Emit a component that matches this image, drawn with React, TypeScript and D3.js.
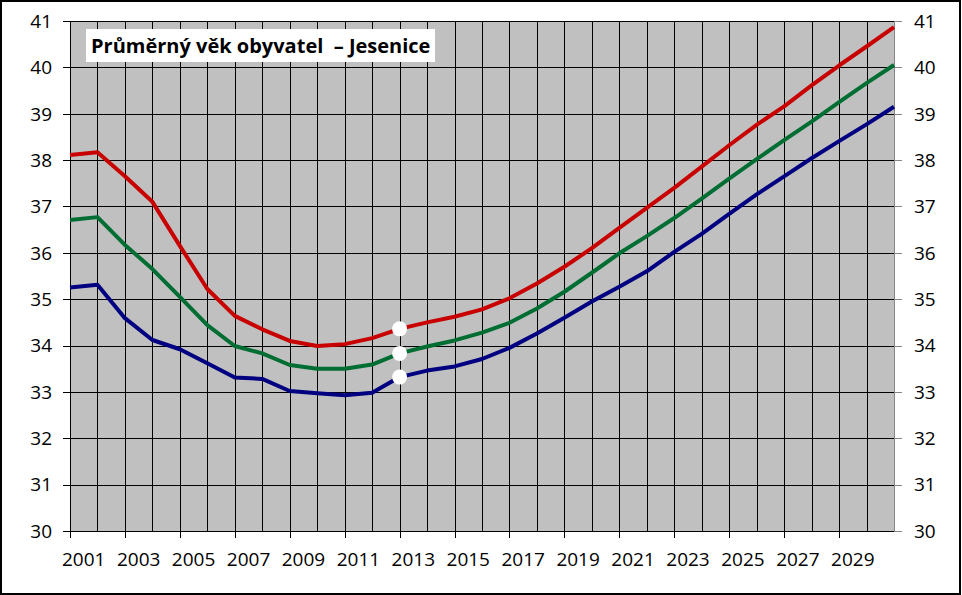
import React from "react";
import * as d3 from "d3";

const years = [2001,2002,2003,2004,2005,2006,2007,2008,2009,2010,2011,2012,2013,2014,2015,2016,2017,2018,2019,2020,2021,2022,2023,2024,2025,2026,2027,2028,2029,2030,2031];
const redSeries = [38.11,38.17,37.65,37.10,36.15,35.22,34.64,34.35,34.10,33.99,34.03,34.16,34.36,34.50,34.62,34.78,35.02,35.34,35.70,36.10,36.54,36.97,37.40,37.86,38.32,38.76,39.16,39.61,40.04,40.45,40.87];
const greenSeries = [36.71,36.77,36.17,35.65,35.05,34.44,33.99,33.83,33.58,33.50,33.50,33.59,33.83,33.98,34.11,34.28,34.49,34.80,35.16,35.57,35.99,36.36,36.75,37.17,37.60,38.02,38.43,38.83,39.25,39.66,40.05];
const blueSeries = [35.25,35.31,34.59,34.12,33.92,33.62,33.31,33.28,33.02,32.97,32.93,32.98,33.32,33.46,33.55,33.71,33.95,34.26,34.60,34.95,35.27,35.60,36.02,36.41,36.84,37.26,37.65,38.04,38.41,38.77,39.15];
const yTicks = [30,31,32,33,34,35,36,37,38,39,40,41];
const xLabelYears = [2001,2003,2005,2007,2009,2011,2013,2015,2017,2019,2021,2023,2025,2027,2029];
const markerYear = 2013;
const title = "Průměrný věk obyvatel  – Jesenice";

const W = 962, H = 595;
const L = 70, R = 894, T = 21, B = 531;
const FONT = "'Open Sans', 'Noto Sans', sans-serif";

export default function App() {
  const x = d3.scaleLinear().domain([2001, 2031]).range([L, R]);
  const y = d3.scaleLinear().domain([30, 41]).range([B, T]);
  const step = x(2002) - x(2001);
  const line = d3.line<[number, number]>().x(d => x(d[0])).y(d => y(d[1]));
  const series = [
    { values: blueSeries, color: "#000080" },
    { values: greenSeries, color: "#006E33" },
    { values: redSeries, color: "#C80000" },
  ];
  const mi = years.indexOf(markerYear);
  return (
    <div style={{ position: "absolute", left: 0, top: 0 }}>
      <svg width={W} height={H} style={{ display: "block" }}>
        <rect x={0} y={0} width={W} height={H} fill="#fff" />
        <rect x={L} y={T} width={R - L} height={B - T} fill="#C0C0C0" />
        {yTicks.map(v => (
          <line key={"h" + v} x1={L} x2={R} y1={Math.round(y(v)) + 0.5} y2={Math.round(y(v)) + 0.5} stroke="#000" strokeWidth={1} />
        ))}
        {years.slice(0, -1).map(yr => (
          <line key={"v" + yr} x1={Math.round(x(yr)) + 0.5} x2={Math.round(x(yr)) + 0.5} y1={T} y2={B + 0.5} stroke="#000" strokeWidth={1} />
        ))}
        <line x1={R + 0.5} x2={R + 0.5} y1={T} y2={B + 0.5} stroke="#868686" />
        {yTicks.map(v => (
          <line key={"rt" + v} x1={R} x2={R + 8} y1={Math.round(y(v)) + 0.5} y2={Math.round(y(v)) + 0.5} stroke="#868686" />
        ))}
        {yTicks.map(v => (
          <line key={"lt" + v} x1={L - 7} x2={L} y1={Math.round(y(v)) + 0.5} y2={Math.round(y(v)) + 0.5} stroke="#000" />
        ))}
        {xLabelYears.map(yr => (
          <line key={"bt" + yr} x1={Math.round(x(yr)) + 0.5} x2={Math.round(x(yr)) + 0.5} y1={B} y2={B + 7} stroke="#000" />
        ))}
        {yTicks.map(v => (
          <text key={"ll" + v} x={52} y={y(v)} dy="0.36em" textAnchor="end" fontFamily={FONT} fontSize={19} fill="#000">{v}</text>
        ))}
        {yTicks.map(v => (
          <text key={"rl" + v} x={914} y={y(v)} dy="0.36em" textAnchor="start" fontFamily={FONT} fontSize={19} fill="#000">{v}</text>
        ))}
        {xLabelYears.map(yr => (
          <text key={"xl" + yr} x={x(yr) + step / 2} y={566} textAnchor="middle" fontFamily={FONT} fontSize={19} fill="#000">{yr}</text>
        ))}
        {series.map((s, i) => (
          <path key={"s" + i} d={line(years.map((yr, j) => [yr, s.values[j]] as [number, number])) || ""} fill="none" stroke={s.color} strokeWidth={4} strokeLinejoin="round" />
        ))}
        {series.map((s, i) => (
          <circle key={"m" + i} cx={x(markerYear)} cy={y(s.values[mi])} r={7.5} fill="#fff" />
        ))}
        <rect x={86} y={29} width={349} height={33} fill="#fff" />
        <text x={91} y={53} fontFamily={FONT} fontWeight="bold" fontSize={20} fill="#000" style={{ whiteSpace: "pre" }}>{title}</text>
        <rect x={1} y={1} width={959} height={593} fill="none" stroke="#000" strokeWidth={2} />
      </svg>
    </div>
  );
}
